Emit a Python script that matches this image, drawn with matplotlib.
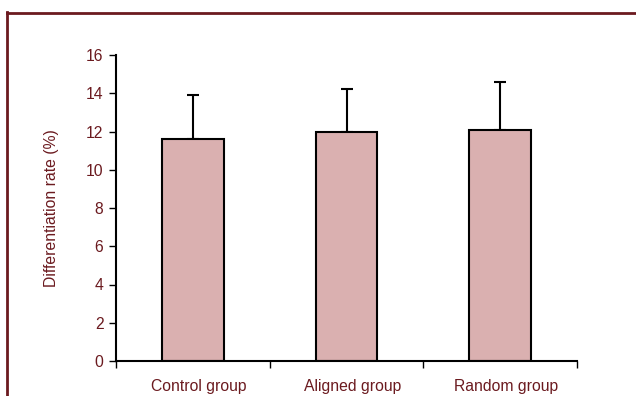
import matplotlib
matplotlib.use('Agg')
import matplotlib.pyplot as plt
from matplotlib.lines import Line2D
import numpy as np

groups = ['Control group', 'Aligned group', 'Random group']
rates = [11.6, 12.0, 12.1]
errs = [2.3, 2.2, 2.5]
yticks = [0, 2, 4, 6, 8, 10, 12, 14, 16]

txt = '#6B1A1F'
fs = 11.3
plt.rcParams['font.family'] = ['Liberation Sans', 'DejaVu Sans']

fig = plt.figure(figsize=(6.36, 3.96), dpi=100)
ax = fig.add_axes([116/636, 1-361/396, 461/636, 306/396])

x = np.arange(len(groups))
ax.bar(x, rates, width=0.4, color='#DAB0B0', edgecolor='black', linewidth=1.5, zorder=2)
ax.errorbar(x, rates, yerr=[np.zeros(len(errs)), errs], fmt='none', ecolor='black',
            elinewidth=1.5, capsize=4, capthick=1.5, zorder=1)

ax.set_xlim(-0.5, len(groups)-0.5)
ax.set_ylim(0, 16)
ax.set_yticks(yticks)
ax.tick_params(axis='y', direction='out', length=5, width=1, colors='black', labelcolor=txt, labelsize=fs, pad=4)

# category boundaries as major ticks, names on minor ticks
ax.set_xticks(np.arange(-0.5, len(groups), 1.0))
ax.set_xticklabels([])
ax.set_xticks(x + 0.04, minor=True)
ax.set_xticklabels(groups, minor=True)
ax.tick_params(axis='x', which='major', direction='out', length=5, width=1, colors='black')
ax.tick_params(axis='x', which='minor', length=0, labelcolor=txt, labelsize=fs, pad=13)

for s in ['top', 'right']:
    ax.spines[s].set_visible(False)
for s in ['left', 'bottom']:
    ax.spines[s].set_linewidth(1.5)
    ax.spines[s].set_color('black')

ax.set_ylabel('Differentiation rate (%)', color=txt, fontsize=fs, labelpad=19)

# outer frame (cropped at right and bottom)
fig.add_artist(Line2D([6.5/636, 6.5/636], [1-12/396, -0.05], transform=fig.transFigure, color=txt, lw=2))
fig.add_artist(Line2D([6.5/636, 1.05], [1-12.5/396, 1-12.5/396], transform=fig.transFigure, color=txt, lw=2))

fig.savefig('out.png', dpi=100)
